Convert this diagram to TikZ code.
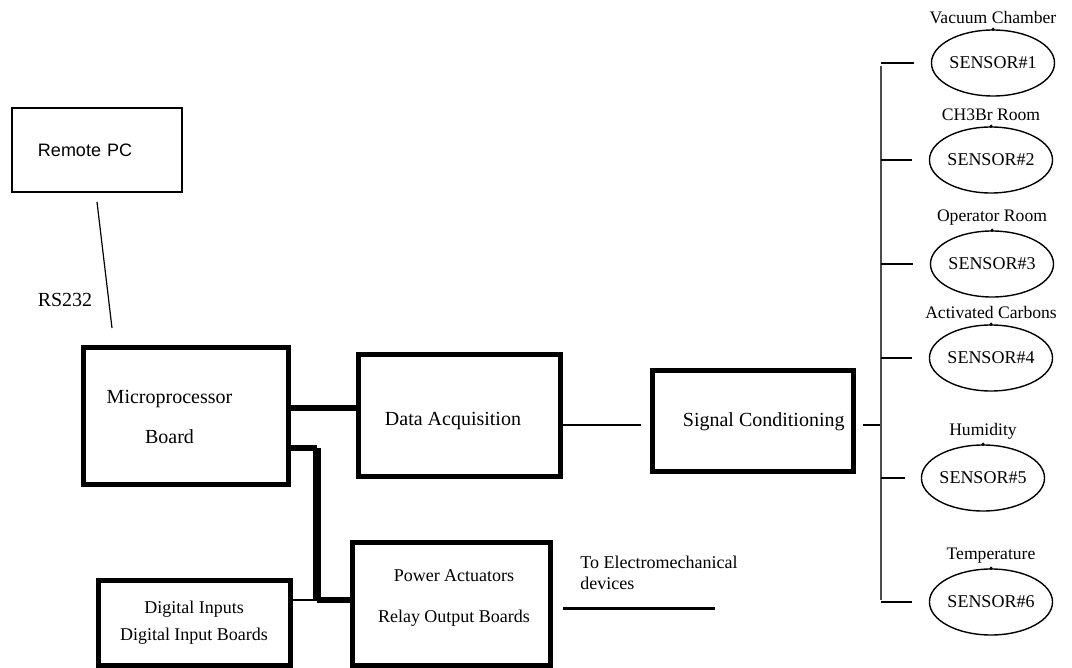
\documentclass[tikz,border=0pt]{standalone}
\usepackage{fontspec}
\setmainfont{Liberation Serif}
\newfontfamily\pcfont{Liberation Sans}
\usetikzlibrary{shapes.geometric, positioning, calc}

\begin{document}
\begin{tikzpicture}[
    x=0.5pt, y=-0.5pt,
    font=\fontsize{10}{12}\selectfont,
    board/.style={
        rectangle, draw=black, line width=2.5pt, fill=white,
        align=center, inner sep=2pt
    },
    pcbox/.style={
        rectangle, draw=black, line width=0.7pt,
        minimum width=85pt, minimum height=42pt,
        text width=59pt, inner xsep=13pt, align=left,
        font=\pcfont\fontsize{9}{11}\selectfont
    },
    sensor/.style={
        ellipse, draw=black, line width=0.7pt,
        minimum width=60pt, minimum height=33pt, inner sep=0pt,
        font=\fontsize{9}{11}\selectfont
    },
    place/.style={font=\fontsize{8.8}{10}\selectfont, inner sep=1pt},
    ann/.style={font=\fontsize{9}{10.5}\selectfont, align=left, inner sep=0pt},
    small/.style={font=\fontsize{9}{11}\selectfont},
    wire/.style={line width=0.6pt},
    link/.style={line width=2.8pt},
    fatlink/.style={line width=4pt},
]

\useasboundingbox (0,0) rectangle (1072,668);

\node[pcbox] (pc) at (97,150) {Remote PC};

\node[inner sep=0pt] (rs) at (65,300) {RS232};

\node[board, minimum width=102.5pt, minimum height=68.5pt] (micro) at (185.5,416.5) {};
\node[align=center, inner sep=0pt] (microtxt) at ([xshift=-8pt]micro.center) {Microprocessor\\[8pt]Board};

\node[board, minimum width=101pt, minimum height=61pt] (daq) at (459,416) {};
\node[inner sep=0pt] (daqtxt) at ([shift={(-3pt,-2.5pt)}]daq.center) {Data Acquisition};

\node[board, minimum width=100.5pt, minimum height=50.5pt] (sigc) at (752.5,421.5) {};
\node[inner sep=0pt, right=16.5pt of sigc.west] (sigtxt) {Signal Conditioning};

\node[board, small, minimum width=96pt, minimum height=42.5pt] (din) at (194,622.5) {Digital Inputs\\[2.5pt]Digital Input Boards};

\node[board, small, minimum width=99pt, minimum height=61.5pt] (relay) at (451,603.5) {};
\node[small, align=center, inner sep=0pt] (relaytxt) at ([shift={(1.5pt,3pt)}]relay.center) {Power Actuators\\[9.5pt]Relay Output Boards};

\node[ann, anchor=west] (elec) at (580,572.5) {To Electromechanical\\devices};

% Sensors
\node[sensor] (s1) at (993,63) {SENSOR\#1};
\node[place, above=1.5pt of s1] (l1) {Vacuum Chamber};

\node[sensor] (s2) at (991,160) {SENSOR\#2};
\node[place, above=1.5pt of s2] (l2) {CH3Br Room};

\node[sensor] (s3) at (992,264) {SENSOR\#3};
\node[place, above=1.5pt of s3] (l3) {Operator Room};

\node[sensor] (s4) at (991,358) {SENSOR\#4};
\node[place, above=1.5pt of s4] (l4) {Activated Carbons};

\node[sensor] (s5) at (983,478) {SENSOR\#5};
\node[place, above=1.5pt of s5] (l5) {Humidity};

\node[sensor] (s6) at (991,602) {SENSOR\#6};
\node[place, above=1.5pt of s6] (l6) {Temperature};

\fill (s1.north) circle (0.9pt);
\fill (s2.north) circle (0.9pt);
\fill (s3.north) circle (0.9pt);
\fill (s4.north) circle (0.9pt);
\fill (s5.north) circle (0.9pt);
\fill (s6.north) circle (0.9pt);

\coordinate (rsa) at (97,202);
\coordinate (rsb) at (112,328);
\coordinate (jtop) at (317,448);
\coordinate (jbot) at (317,600);
\coordinate (bustop) at (881,66);
\coordinate (busbot) at (881,600);
\coordinate (elecend) at (715,608);

% Links
\draw[wire] (rsa) -- (rsb);
\draw[link] ([yshift=4.25pt]micro.east) -- ([yshift=4.25pt]micro.east -| daq.west);
\draw[link] ([yshift=-15.75pt]micro.east) -- (jtop);
\draw[fatlink] (jtop) -- (jbot);
\draw[link] (jbot) -- (jbot -| relay.west);
\draw[wire] (din.east |- jbot) -- (jbot);
\draw[wire, shorten >=4.5pt] ([yshift=-4.5pt]daq.east) -- ([yshift=-4.5pt]daq.east -| sigc.west);
\draw[wire, shorten <=3.5pt] ([yshift=-1.75pt]sigc.east) -- ([yshift=-1.75pt]sigc.east -| bustop);
\draw[line width=1.5pt] ([shift={(5pt,-2.25pt)}]relay.east) -- (elecend);

% Sensor bus
\draw[wire, draw=black!70] (bustop) -- (busbot);
\draw[wire, shorten >=8.5pt] (s1.west -| bustop) -- (s1.west);
\draw[wire, shorten >=8.5pt] (s2.west -| bustop) -- (s2.west);
\draw[wire, shorten >=8.5pt] (s3.west -| bustop) -- (s3.west);
\draw[wire, shorten >=8.5pt] (s4.west -| bustop) -- (s4.west);
\draw[wire, shorten >=8pt] (s5.west -| bustop) -- (s5.west);
\draw[wire, shorten >=8.5pt] (s6.west -| bustop) -- (s6.west);

\end{tikzpicture}
\end{document}
